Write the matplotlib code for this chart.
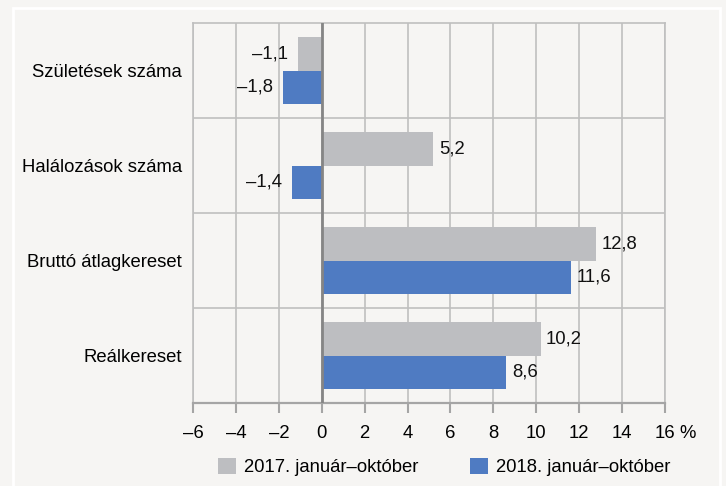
import matplotlib
matplotlib.use("Agg")
import matplotlib.pyplot as plt
from matplotlib.patches import Rectangle
import numpy as np

categories = ["Születések száma", "Halálozások száma", "Bruttó átlagkereset", "Reálkereset"]
series_names = ["2017. január–október", "2018. január–október"]
values_2017 = [-1.1, 5.2, 12.8, 10.2]
values_2018 = [-1.8, -1.4, 11.6, 8.6]
xticks = [-6, -4, -2, 0, 2, 4, 6, 8, 10, 12, 14, 16]

bg = "#f6f5f3"
gray_bar = "#bdbec1"
blue_bar = "#4f7bc2"
grid_col = "#bfbfbf"

plt.rcParams["font.family"] = ["Liberation Sans", "DejaVu Sans"]
fs = 13.3


def fmt(v):
    s = f"{abs(v):.1f}".replace(".", ",")
    return ("\u2013" + s) if v < 0 else s


fig = plt.figure(figsize=(7.26, 4.86), dpi=100, facecolor=bg)
ax = fig.add_axes([193 / 726, 83 / 486, 472 / 726, 380 / 486])
ax.set_facecolor(bg)

y = np.arange(len(categories))
h = 0.353
b1 = ax.barh(y - h / 2, values_2017, height=h, color=gray_bar, label=series_names[0], zorder=3)
b2 = ax.barh(y + h / 2, values_2018, height=h, color=blue_bar, label=series_names[1], zorder=3)

for bars, vals in ((b1, values_2017), (b2, values_2018)):
    for bar, v in zip(bars, vals):
        cy = bar.get_y() + bar.get_height() / 2
        if v >= 0:
            ax.annotate(fmt(v), (v, cy), xytext=(4, 0), textcoords="offset points",
                        ha="left", va="center", fontsize=fs, color="#111111")
        else:
            ax.annotate(fmt(v), (v, cy), xytext=(-7, 0), textcoords="offset points",
                        ha="right", va="center", fontsize=fs, color="#111111")

ax.set_xlim(-6, 16)
ax.set_ylim(3.5, -0.5)
ax.set_xticks(xticks)
ax.set_xticklabels([str(t).replace("-", "\u2013") for t in xticks], fontsize=fs)
ax.set_yticks(y)
ax.set_yticklabels(categories, fontsize=fs)
ax.set_yticks([0.5, 1.5, 2.5], minor=True)
ax.tick_params(axis="y", which="both", length=0, pad=8)
ax.tick_params(axis="x", direction="out", length=7.5, width=1.5, color="#a5a5a5", pad=8)

ax.grid(axis="x", color=grid_col, linewidth=1.2, zorder=0)
ax.grid(axis="y", which="minor", color=grid_col, linewidth=1.2, zorder=0)
ax.axvline(0, color="#858585", linewidth=2, zorder=4)

for side in ("top", "right", "left"):
    ax.spines[side].set_color(grid_col)
    ax.spines[side].set_linewidth(1.2)
ax.spines["bottom"].set_color("#a5a5a5")
ax.spines["bottom"].set_linewidth(1.6)

ax.annotate("%", xy=(16, 0), xycoords=("data", "axes fraction"), xytext=(10, -15.5),
            textcoords="offset points", ha="left", va="top", fontsize=fs)

fig.legend(handles=[b1, b2], labels=series_names, loc="center", ncol=2,
           bbox_to_anchor=(444 / 726, 19 / 486), frameon=False, fontsize=fs,
           handlelength=1.0, handleheight=1.0, handletextpad=0.4, columnspacing=2.8)

fig.patches.append(Rectangle((13 / 726, -0.05), 707 / 726, (486 - 8) / 486 + 0.05,
                             transform=fig.transFigure, fill=False, edgecolor="white",
                             linewidth=2, zorder=0))

fig.savefig("out.png", dpi=100, facecolor=bg)
